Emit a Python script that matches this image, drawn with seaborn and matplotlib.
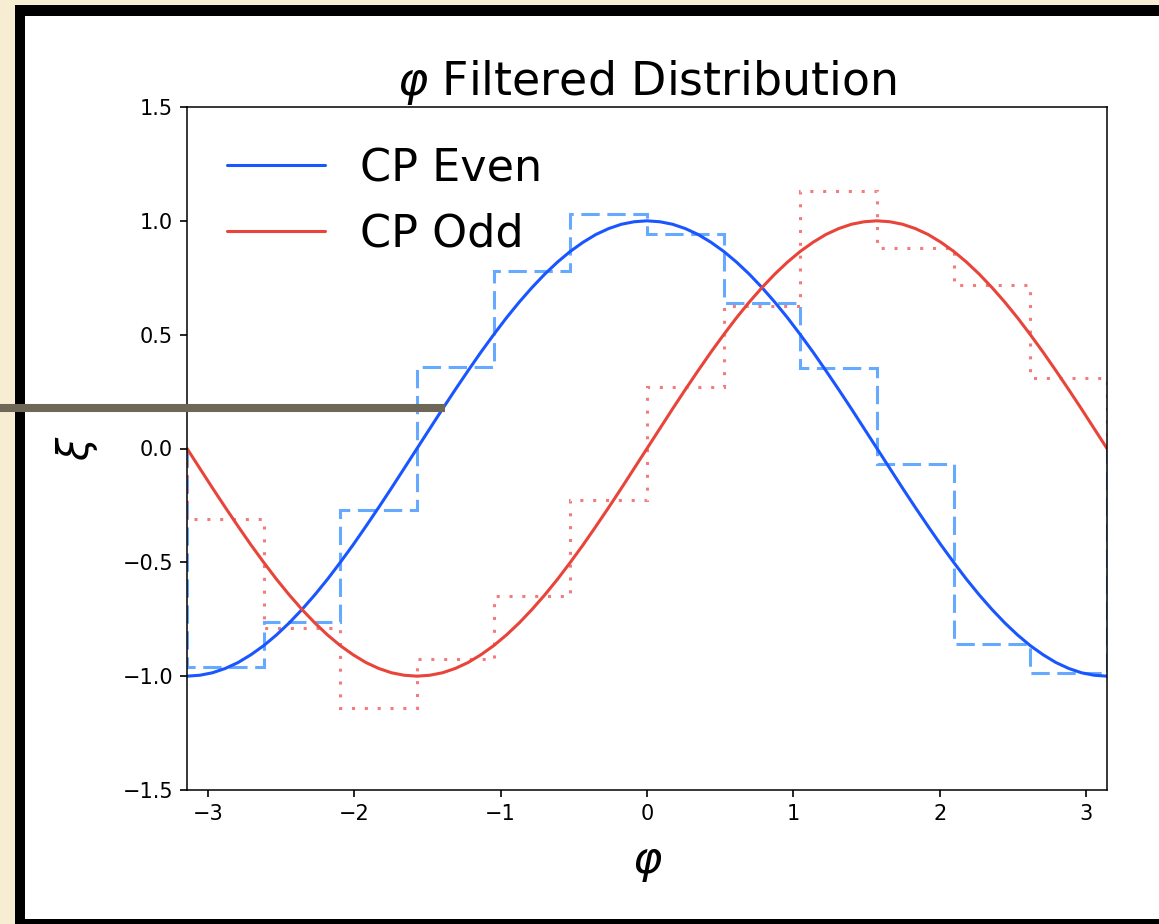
import numpy as np
import pandas as pd
import matplotlib
matplotlib.use("Agg")
import matplotlib.pyplot as plt
from matplotlib.patches import Rectangle
from matplotlib.lines import Line2D
import seaborn as sns

# smooth curves, read every 5 degrees from -180 to 180
phi_deg = list(range(-180, 181, 5))
cp_even = [-1.0, -0.996, -0.985, -0.966, -0.940, -0.906, -0.866, -0.819, -0.766, -0.707,
           -0.643, -0.574, -0.5, -0.423, -0.342, -0.259, -0.174, -0.087, 0.0,
           0.087, 0.174, 0.259, 0.342, 0.423, 0.5, 0.574, 0.643, 0.707,
           0.766, 0.819, 0.866, 0.906, 0.940, 0.966, 0.985, 0.996, 1.0,
           0.996, 0.985, 0.966, 0.940, 0.906, 0.866, 0.819, 0.766, 0.707,
           0.643, 0.574, 0.5, 0.423, 0.342, 0.259, 0.174, 0.087, 0.0,
           -0.087, -0.174, -0.259, -0.342, -0.423, -0.5, -0.574, -0.643, -0.707,
           -0.766, -0.819, -0.866, -0.906, -0.940, -0.966, -0.985, -0.996, -1.0]
cp_odd = [0.0, -0.087, -0.174, -0.259, -0.342, -0.423, -0.5, -0.574, -0.643, -0.707,
          -0.766, -0.819, -0.866, -0.906, -0.940, -0.966, -0.985, -0.996, -1.0,
          -0.996, -0.985, -0.966, -0.940, -0.906, -0.866, -0.819, -0.766, -0.707,
          -0.643, -0.574, -0.5, -0.423, -0.342, -0.259, -0.174, -0.087, 0.0,
          0.087, 0.174, 0.259, 0.342, 0.423, 0.5, 0.574, 0.643, 0.707,
          0.766, 0.819, 0.866, 0.906, 0.940, 0.966, 0.985, 0.996, 1.0,
          0.996, 0.985, 0.966, 0.940, 0.906, 0.866, 0.819, 0.766, 0.707,
          0.643, 0.574, 0.5, 0.423, 0.342, 0.259, 0.174, 0.087, 0.0]

# filtered histogram, 12 bins over [-pi, pi]
even_bins = [-0.96, -0.76, -0.27, 0.36, 0.78, 1.03, 0.94, 0.64, 0.355, -0.07, -0.86, -0.985]
odd_bins = [-0.31, -0.79, -1.14, -0.925, -0.65, -0.225, 0.27, 0.625, 1.13, 0.88, 0.72, 0.31]
n_bins = 12

df = pd.DataFrame({"phi": np.deg2rad(phi_deg), "even": cp_even, "odd": cp_odd})
edges = np.linspace(-np.pi, np.pi, n_bins + 1)

sns.set_theme(style="ticks")
plt.rcParams["font.family"] = ["DejaVu Sans"]
plt.rcParams["axes.edgecolor"] = "black"
plt.rcParams["text.color"] = "black"
plt.rcParams["axes.labelcolor"] = "black"
plt.rcParams["xtick.color"] = "black"
plt.rcParams["ytick.color"] = "black"

W, H = 1159, 924
fig = plt.figure(figsize=(W / 100, H / 100), dpi=100)
fig.patch.set_facecolor("#f6edd3")

# screenshot frame
fig.add_artist(Rectangle((15 / W, 0), 1, 1 - 5 / H, transform=fig.transFigure,
                         facecolor="black", edgecolor="none", zorder=-10))
fig.add_artist(Rectangle((25 / W, 5 / H), 1, 1 - 21 / H, transform=fig.transFigure,
                         facecolor="white", edgecolor="none", zorder=-9))

ax = fig.add_axes([187 / W, 1 - 790 / H, 920 / W, 683 / H])

ax.stairs(even_bins, edges, baseline=0, color="#66aaff", lw=2.2, ls=(0, (6, 2.5)))
ax.stairs(odd_bins, edges, baseline=0, color="#f27c7c", lw=2.2, ls=(0, (1, 3.2)))

sns.lineplot(data=df, x="phi", y="even", ax=ax, color="#1a56ff", lw=2.2, label="CP Even")
sns.lineplot(data=df, x="phi", y="odd", ax=ax, color="#e8443a", lw=2.2, label="CP Odd")

ax.set_xlim(-np.pi, np.pi)
ax.set_ylim(-1.5, 1.5)
ax.set_yticks([-1.5, -1.0, -0.5, 0.0, 0.5, 1.0, 1.5])
ax.set_xticks([-3, -2, -1, 0, 1, 2, 3])
ax.tick_params(labelsize=15, length=5, width=1.2, pad=5)
for s in ax.spines.values():
    s.set_linewidth(1.1)

ax.set_title(r"$\varphi$ Filtered Distribution", fontsize=33, pad=6)
ax.set_xlabel(r"$\varphi$", fontsize=32, labelpad=12)
ax.set_ylabel(r"$\xi$", fontsize=30, labelpad=16)
ax.legend(loc="upper left", frameon=False, fontsize=32, handlelength=2.2)

# stray grey bar across the screenshot
fig.add_artist(Line2D([0, 445 / W], [1 - 408 / H, 1 - 408 / H], transform=fig.transFigure,
                      color="#6e6758", lw=5.8, solid_capstyle="butt", zorder=20))

fig.savefig("out.png", dpi=100, facecolor=fig.get_facecolor())
